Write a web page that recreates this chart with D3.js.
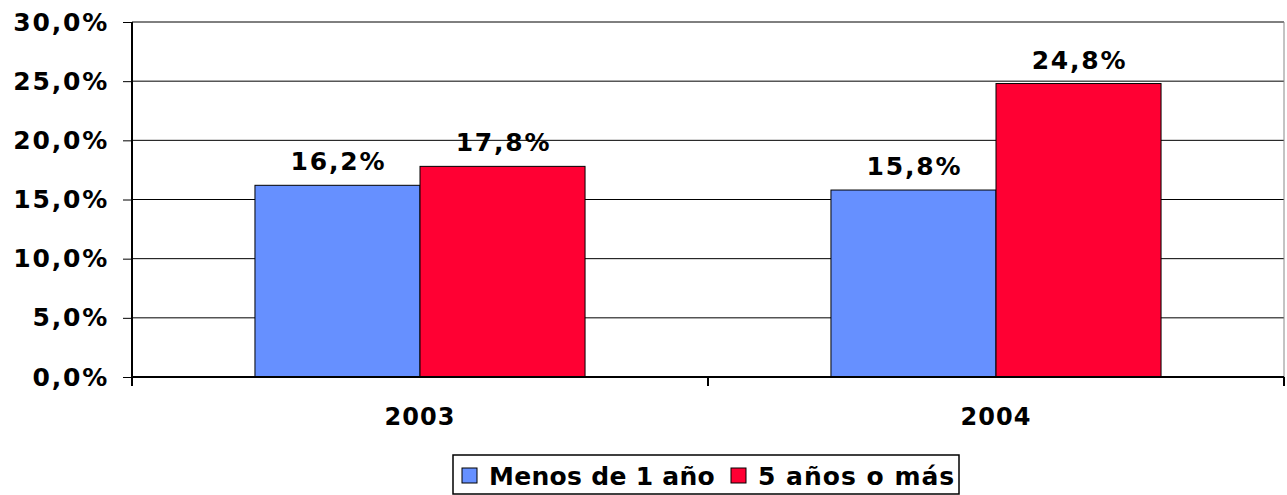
<!DOCTYPE html>
<html>
<head>
<meta charset="utf-8">
<script src="https://cdn.jsdelivr.net/npm/d3@7"></script>
<style>
  body { margin: 0; background: #fff; }
  text { font-family: "DejaVu Sans", Verdana, sans-serif; font-weight: bold; }
</style>
</head>
<body>
<div class="chart"></div>
<script>
const years = ["2003", "2004"];
const seriesNames = ["Menos de 1 año", "5 años o más"];
const menosDe1 = [16.2, 15.8];
const cincoOMas = [17.8, 24.8];
const yTicks = [0, 5, 10, 15, 20, 25, 30];
const colours = ["#6690ff", "#ff0033"];

const width = 1287, height = 495;
const margin = {top: 22, right: 3, bottom: 118, left: 132};

const svg = d3.select(".chart").append("svg")
    .attr("width", width)
    .attr("height", height);

const x = d3.scaleBand()
    .domain(years)
    .range([margin.left, width - margin.right]);

const xInner = d3.scaleBand()
    .domain(seriesNames)
    .range([0, x.bandwidth()])
    .paddingOuter(0.745);

const y = d3.scaleLinear()
    .domain([0, 30])
    .range([height - margin.bottom, margin.top]);

const pct = d => d3.format(".1f")(d).replace(".", ",") + "%";

//gridlines
svg.append("g")
    .selectAll("line")
    .data(yTicks)
    .enter().append("line")
    .attr("x1", margin.left)
    .attr("x2", width - margin.right)
    .attr("y1", d => y(d))
    .attr("y2", d => y(d))
    .attr("stroke", "#000")
    .attr("stroke-width", 1);

//plot border right
svg.append("line")
    .attr("x1", width - margin.right).attr("x2", width - margin.right)
    .attr("y1", margin.top).attr("y2", y(0))
    .attr("stroke", "#888").attr("stroke-width", 1);

//y axis
const yAxis = d3.axisLeft(y)
    .tickValues(yTicks)
    .tickSize(9)
    .tickPadding(14)
    .tickFormat(pct);

svg.append("g")
    .attr("transform", `translate(${margin.left},0)`)
    .call(yAxis)
    .call(g => g.select(".domain").remove())
    .call(g => g.selectAll("text").attr("font-size", 25).attr("fill", "#000")
        .attr("font-family", "DejaVu Sans").attr("font-weight", "bold").attr("letter-spacing", 1.8));

svg.append("line")
    .attr("x1", margin.left).attr("x2", margin.left)
    .attr("y1", margin.top).attr("y2", y(0) + 9)
    .attr("stroke", "#000").attr("stroke-width", 2);

//x axis
const xAxis = d3.axisBottom(x)
    .tickSize(0)
    .tickPadding(31);

svg.append("g")
    .attr("transform", `translate(0,${y(0)})`)
    .call(xAxis)
    .call(g => g.select(".domain").remove())
    .call(g => g.selectAll("text").attr("font-size", 24).attr("fill", "#000")
        .attr("font-family", "DejaVu Sans").attr("font-weight", "bold").attr("letter-spacing", 1));

svg.append("line")
    .attr("x1", x(years[1])).attr("x2", x(years[1]))
    .attr("y1", y(0)).attr("y2", y(0) + 9)
    .attr("stroke", "#000").attr("stroke-width", 2);
svg.append("line")
    .attr("x1", width - margin.right).attr("x2", width - margin.right)
    .attr("y1", y(0)).attr("y2", y(0) + 9)
    .attr("stroke", "#000").attr("stroke-width", 2);

//bars
const rows = years.map((yr, i) => ({year: yr, values: [menosDe1[i], cincoOMas[i]]}));

const group = svg.selectAll(".group")
    .data(rows)
    .enter().append("g")
    .attr("transform", d => `translate(${x(d.year)},0)`);

group.selectAll("rect")
    .data(d => d.values.map((v, j) => ({name: seriesNames[j], value: v, j: j})))
    .enter().append("rect")
    .attr("x", d => xInner(d.name))
    .attr("width", xInner.bandwidth())
    .attr("y", d => y(d.value))
    .attr("height", d => y(0) - y(d.value))
    .attr("fill", d => colours[d.j])
    .attr("stroke", "#000")
    .attr("stroke-width", 1);

group.selectAll(".label")
    .data(d => d.values.map((v, j) => ({name: seriesNames[j], value: v})))
    .enter().append("text")
    .attr("x", d => xInner(d.name) + xInner.bandwidth() / 2 + 1)
    .attr("y", d => y(d.value) - 15)
    .attr("text-anchor", "middle")
    .attr("font-size", 25)
    .attr("letter-spacing", 1.8)
    .text(d => pct(d.value));

//axis line at zero on top
svg.append("line")
    .attr("x1", margin.left).attr("x2", width - margin.right)
    .attr("y1", y(0)).attr("y2", y(0))
    .attr("stroke", "#000").attr("stroke-width", 2);

//legend
const legend = svg.append("g").attr("transform", "translate(453,455)");
legend.append("rect")
    .attr("width", 506).attr("height", 39)
    .attr("fill", "#fff").attr("stroke", "#000").attr("stroke-width", 1.5);

const items = [{name: seriesNames[0], x: 9, spacing: 0.3}, {name: seriesNames[1], x: 278, spacing: 1}];
items.forEach((it, j) => {
    legend.append("rect")
        .attr("x", it.x).attr("y", 13)
        .attr("width", 15).attr("height", 15)
        .attr("fill", colours[j]).attr("stroke", "#000");
    legend.append("text")
        .attr("x", it.x + 27).attr("y", 30)
        .attr("font-size", 25)
        .attr("letter-spacing", it.spacing)
        .text(it.name);
});
</script>
</body>
</html>
